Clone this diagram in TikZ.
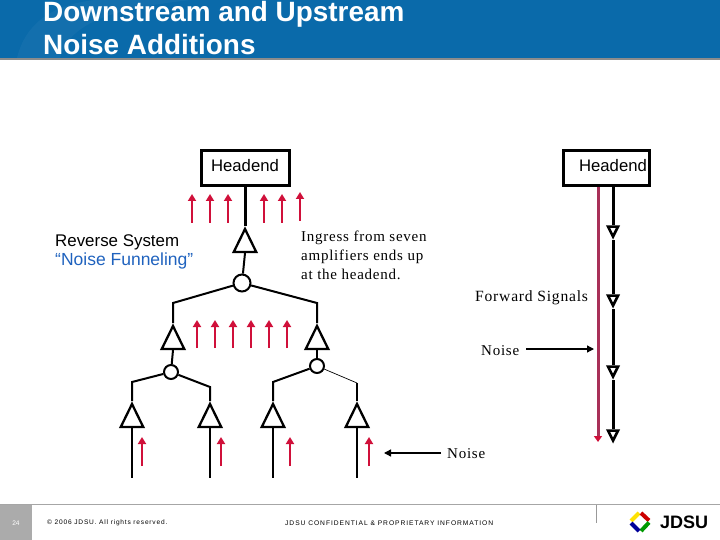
\documentclass[tikz,border=0pt]{standalone}
\usepackage{fontspec}
\setmainfont{Liberation Sans}
\newfontfamily\serifbody[LetterSpace=5]{Liberation Serif}
\newfontfamily\footfont[LetterSpace=12]{Liberation Sans}
\newfontfamily\footwide[LetterSpace=14]{Liberation Sans}
\usetikzlibrary{shapes.geometric,arrows.meta}
\definecolor{hdrblue}{HTML}{0A6AAA}
\definecolor{noisered}{HTML}{D0103A}
\definecolor{noiseline}{HTML}{A83058}
\definecolor{bluetext}{HTML}{1F62BE}
\tikzset{
  boxnode/.style={draw=black,line width=3pt,fill=white,inner sep=0pt,font=\fontsize{16.7}{20}\selectfont},
  amp/.style={draw=black,line width=2.3pt,fill=white,shape=isosceles triangle,shape border rotate=90,
    isosceles triangle stretches,minimum width=22.5pt,minimum height=23pt,inner sep=0pt,anchor=apex},
  ampdown/.style={draw=black,line width=2.6pt,fill=white,shape=isosceles triangle,shape border rotate=-90,
    isosceles triangle stretches,minimum width=10pt,minimum height=10pt,inner sep=0pt,anchor=apex},
  tap/.style={draw=black,line width=2pt,fill=white,circle,inner sep=0pt},
  wire/.style={draw=black,line width=2pt},
  thickwire/.style={draw=black,line width=3pt},
  ingress/.style={draw=noisered,line width=2.8pt,-{Triangle[length=7pt,width=8pt]}},
  pointer/.style={draw=black,line width=1.3pt,-{Triangle[length=7pt,width=7pt]}},
  bodytext/.style={font=\fontsize{15}{19}\selectfont\serifbody,inner sep=0pt,align=left},
  foottext/.style={font=\fontsize{6.6}{8}\selectfont\footfont,inner sep=0pt},
}
\begin{document}
\begin{tikzpicture}[x=1pt,y=-1pt]
\useasboundingbox (0,0) rectangle (720,540);
% header
\fill[hdrblue] (0,0) rectangle (720,58);
\fill[white,opacity=.04] (17,58) .. controls (25,25) and (50,5) .. (95,0) -- (190,0) .. controls (120,8) and (70,20) .. (60,58) -- cycle;
\fill[black!45] (0,58) rectangle (720,60);
\node[anchor=base west,inner sep=0pt,text=white,font=\fontsize{27.9}{32}\selectfont\bfseries] (title1) at (43,22) {Downstream and Upstream};
\node[anchor=base west,inner sep=0pt,text=white,font=\fontsize{27.9}{32}\selectfont\bfseries] (title2) at (43,55) {Noise Additions};
% footer
\fill[black!35] (0,504) rectangle (720,505);
\fill[black!33] (0,505) rectangle (32,540);
\fill[black!40] (595.5,505) rectangle (596.5,523);
\node[text=white,font=\fontsize{6.6}{8}\selectfont] (pagenum) at (16,523) {24};
\node[foottext,anchor=west] (copyr) at (47,523) {© 2006 JDSU. All rights reserved.};
\node[anchor=west,inner sep=0pt,font=\fontsize{6.7}{8}\selectfont\footwide] (conf) at (285,523) {JDSU CONFIDENTIAL \& PROPRIETARY INFORMATION};
% logo
\draw[line width=4pt,draw=yellow!85!orange] (631,521) -- (639,513);
\draw[line width=4pt,draw=red!80!black] (641,513) -- (649,520.5);
\draw[line width=4pt,draw=green!60!black] (649,522.5) -- (641,531);
\draw[line width=4pt,draw=blue!60!black] (639,531) -- (631,523);
\node[anchor=west,inner sep=0pt,font=\fontsize{18}{20}\selectfont\bfseries] (jdsu) at (660,522) {JDSU};
% left tree
\node[boxnode,minimum width=88pt,minimum height=35pt] (he1) at (245,168.5) {};
\node (he1t) at (245,166) [inner sep=0pt,font=\fontsize{16.7}{20}\selectfont] {Headend};
\node[amp] (a0) at (245,226) {};
\node[tap,minimum size=17pt] (c0) at (242,283) {};
\node[amp] (a1) at (173,323) {};
\node[amp] (a2) at (317,323) {};
\node[tap,minimum size=14pt] (c1) at (171,372) {};
\node[tap,minimum size=14pt] (c2) at (317,366) {};
\node[amp] (b1) at (132,401) {};
\node[amp] (b2) at (210,401) {};
\node[amp] (b3) at (273,401) {};
\node[amp] (b4) at (357,401) {};
\coordinate (l0) at (173,303); \coordinate (r0) at (317,303);
\coordinate (l1) at (132,382); \coordinate (r1) at (210,387);
\coordinate (l2) at (273,382); \coordinate (r2) at (357,383);
\coordinate (e1) at (132,478); \coordinate (e2) at (210,478);
\coordinate (e3) at (273,478); \coordinate (e4) at (357,478);
\draw[thickwire] (he1.south) -- (a0.apex);
\draw[wire] (a0.lower side) -- (c0);
\draw[wire] (c0) -- (l0) -- (a1.apex);
\draw[wire] (c0) -- (r0) -- (a2.apex);
\draw[wire] (a1.lower side) -- (c1);
\draw[wire] (a2.lower side) -- (c2);
\draw[wire] (c1) -- (l1) -- (b1.apex);
\draw[wire] (c1) -- (r1) -- (b2.apex);
\draw[wire] (c2) -- (l2) -- (b3.apex);
\draw[draw=black,line width=.7pt] (c2) -- (r2);
\draw[wire] (r2) -- (b4.apex);
\draw[wire] (b1.lower side) -- (e1);
\draw[wire] (b2.lower side) -- (e2);
\draw[wire] (b3.lower side) -- (e3);
\draw[wire] (b4.lower side) -- (e4);
% ingress arrows
\foreach \x in {192,210,228,264,282} \draw[ingress] (\x,223) -- (\x,194);
\draw[ingress] (300,221) -- (300,192);
\foreach \x in {197,215,233,251,269,287} \draw[ingress] (\x,348) -- (\x,320);
\foreach \x in {142,221,290,369} \draw[ingress] (\x,466) -- (\x,437);
% right system
\node[boxnode,minimum width=86pt,minimum height=35pt] (he2) at (606.5,168.5) {};
\node (he2t) at (613,166) [inner sep=0pt,font=\fontsize{16.7}{20}\selectfont] {Headend};
\coordinate (redend) at (598,442);
\draw[draw=noiseline,line width=3pt,-{Triangle[length=6pt,width=8pt,color=noisered,fill=noisered]}] (598,187) -- (redend);
\node[ampdown] (d1) at (613,240) {};
\node[ampdown] (d2) at (613,309) {};
\node[ampdown] (d3) at (613,380) {};
\node[ampdown] (d4) at (613,444) {};
\draw[thickwire] (he2.south -| d1.lower side) -- (d1.lower side);
\draw[thickwire] (d1.apex) -- (d2.lower side);
\draw[thickwire] (d2.apex) -- (d3.lower side);
\draw[thickwire] (d3.apex) -- (d4.lower side);
% labels
\node[anchor=base west,inner sep=0pt,font=\fontsize{16.9}{20}\selectfont] (rs1) at (55,246) {Reverse System};
\node[anchor=base west,inner sep=0pt,text=bluetext,font=\fontsize{17.5}{20}\selectfont] (rs2) at (55,265) {“Noise Funneling”};
\node[bodytext,anchor=base west] (ing1) at (301,241) {Ingress from seven};
\node[bodytext,anchor=base west] (ing2) at (301,260) {amplifiers ends up};
\node[bodytext,anchor=base west] (ing3) at (301,279) {at the headend.};
\node[inner sep=0pt,anchor=base west,font=\fontsize{15.6}{19}\selectfont\serifbody] (fwd) at (475,301) {Forward Signals};
\node[bodytext,anchor=base west] (n1) at (481,355) {Noise};
\node[bodytext,anchor=base west] (n2) at (447,458) {Noise};
\coordinate (n1tip) at (594,349);
\coordinate (n2tip) at (384,453);
\draw[pointer] (526,349) -- (n1tip);
\draw[pointer] (441,453) -- (n2tip);
\end{tikzpicture}
\end{document}
